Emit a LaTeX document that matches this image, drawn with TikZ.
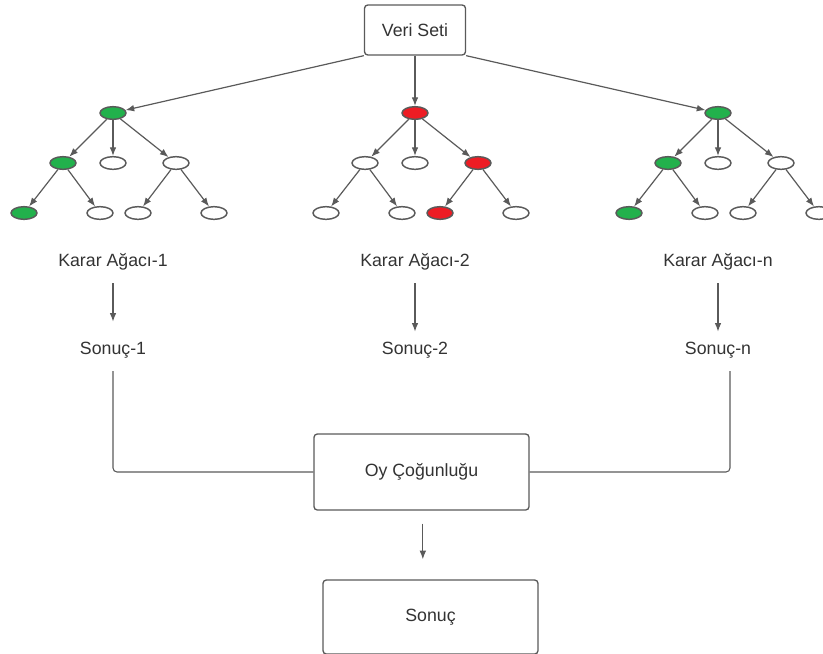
\documentclass[tikz,border=0pt]{standalone}
\usepackage{fontspec}
\setmainfont{Liberation Sans}
\usetikzlibrary{arrows.meta, shapes.geometric, positioning}

\definecolor{edgegray}{HTML}{5A5A5A}
\definecolor{txtgray}{HTML}{333333}
\definecolor{leafgreen}{HTML}{22B14C}
\definecolor{leafred}{HTML}{ED1C24}

\tikzset{
  dnode/.style={ellipse, draw=edgegray, line width=1.1pt, fill=white, minimum width=19.5pt, minimum height=9.5pt, inner sep=0pt},
  gnode/.style={dnode, fill=leafgreen},
  rnode/.style={dnode, fill=leafred},
  box/.style={draw=edgegray, line width=1pt, rounded corners=2.5pt, fill=white, text=txtgray, font=\fontsize{13.3}{15}\selectfont},
  lbl/.style={inner sep=0pt, text=txtgray, font=\fontsize{13.3}{15}\selectfont},
  arr/.style={-{Latex[length=6.5pt,width=5pt]}, draw=edgegray, line width=0.9pt},
  ln/.style={draw=edgegray, line width=0.8pt, rounded corners=3pt}
}

\begin{document}
\begin{tikzpicture}[x=0.75pt, y=-0.75pt]
  \useasboundingbox (0,0) rectangle (823,653);

  \node[box, minimum width=75.75pt, minimum height=37.5pt] (vs) at (415,30) {Veri Seti};

  % the three decision trees
  \foreach \t/\x/\sr/\sa/\sc/\saa/\sca in {1/113/gnode/gnode/dnode/gnode/dnode,
                                          2/415/rnode/dnode/rnode/dnode/rnode,
                                          3/718/gnode/gnode/dnode/gnode/dnode}{
    \node[\sr] (t\t r) at (\x,113) {};
    \node[\sa] (t\t a) at (\x-50,163) {};
    \node[dnode] (t\t b) at (\x,163) {};
    \node[\sc] (t\t c) at (\x+63,163) {};
    \node[\saa] (t\t aa) at (\x-89,213) {};
    \node[dnode] (t\t ab) at (\x-13,213) {};
    \node[\sca] (t\t ca) at (\x+25,213) {};
    \node[dnode] (t\t cb) at (\x+101,213) {};
    \foreach \p/\q in {r/a, r/b, r/c, a/aa, a/ab, c/ca, c/cb}
      \draw[arr] (t\t \p) -- (t\t \q);
  }

  \draw[arr] (vs.south west) -- (t1r);
  \draw[arr] (vs.south) -- (t2r);
  \draw[arr] (vs.south east) -- (t3r);

  \node[lbl] (k1) at (113,262) {Karar Ağacı-1};
  \node[lbl] (k2) at (415,262) {Karar Ağacı-2};
  \node[lbl] (k3) at (718,262) {Karar Ağacı-n};

  \node[lbl] (s1) at (113,350) {Sonuç-1};
  \node[lbl] (s2) at (415,350) {Sonuç-2};
  \node[lbl] (s3) at (718,350) {Sonuç-n};

  \draw[arr, shorten <=9.5pt, shorten >=15pt] (k1) -- (s1);
  \draw[arr, shorten <=9.5pt, shorten >=7.5pt] (k2) -- (s2);
  \draw[arr, shorten <=9.5pt, shorten >=7.5pt] (k3) -- (s3);

  \node[box, minimum width=161.25pt, minimum height=57pt] (oy) at (421.5,472) {Oy Çoğunluğu};
  \node[box, minimum width=161.25pt, minimum height=55.5pt] (son) at (430.5,617) {Sonuç};

  \draw[ln, shorten <=9.5pt] (s1.south) |- (oy.west);
  \draw[ln, shorten <=9.5pt] ([xshift=9pt]s3.south) |- (oy.east);

  \draw[arr, shorten <=9.75pt, shorten >=15pt] ([xshift=1pt]oy.south) -- ([xshift=1pt]oy.south |- son.north);
\end{tikzpicture}
\end{document}
